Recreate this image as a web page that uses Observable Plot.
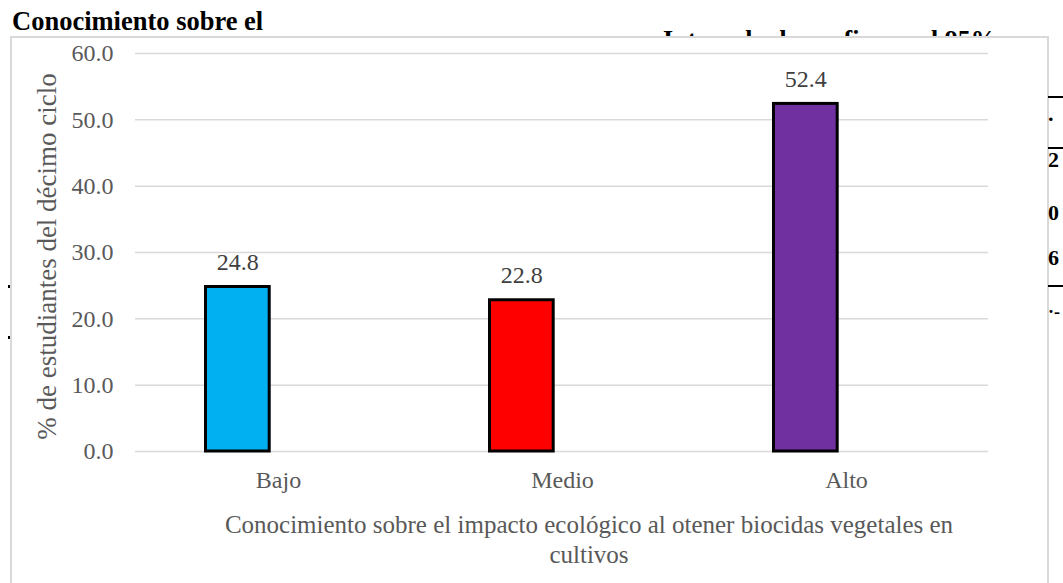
<!DOCTYPE html>
<html>
<head>
<meta charset="utf-8">
<script src="https://cdn.jsdelivr.net/npm/d3@7"></script>
<script src="https://cdn.jsdelivr.net/npm/@observablehq/plot@0.6"></script>
<style>
  html, body { margin: 0; padding: 0; background: #ffffff; }
  body { position: relative; width: 1063px; height: 583px; overflow: hidden; font-family: "Liberation Serif", "Times New Roman", serif; }
  .abs { position: absolute; line-height: 1; white-space: nowrap; }
  .bold { font-weight: bold; color: #000000; }
  #frame { position: absolute; left: 10px; top: 36px; width: 1035px; height: 600px; border: 2px solid #d9d9d9; background: #ffffff; }
  #chart { position: absolute; left: 0; top: 0; }
  .hline { position: absolute; left: 1048px; width: 15px; height: 2px; background: #000000; }
  .dot { position: absolute; left: 8px; width: 2px; height: 3px; background: #000000; }
</style>
</head>
<body>
<div class="abs bold" style="left:12px; top:8px; font-size:26.5px;">Conocimiento sobre el</div>
<div class="abs bold" style="left:663px; top:27px; font-size:26px;">Intervalo de confianza al 95%</div>
<div id="frame"></div>
<div id="chart"></div>
<!-- neighbouring table edge -->
<div class="hline" style="top:96px;"></div>
<div class="hline" style="top:147px;"></div>
<div class="hline" style="top:285px;"></div>
<div class="abs bold" style="left:1048px; top:103px; font-size:22px;">.</div>
<div class="abs bold" style="left:1048px; top:149px; font-size:22px;">2</div>
<div class="abs bold" style="left:1048px; top:202px; font-size:22px;">0</div>
<div class="abs bold" style="left:1048px; top:247px; font-size:22px;">6</div>
<div class="abs bold" style="left:1048px; top:303px; font-size:18px;">·-</div>
<div class="dot" style="top:285px;"></div>
<div class="dot" style="top:336px;"></div>
<script>
// Knowledge level categories and share of tenth-cycle students (%)
const categories = ["Bajo", "Medio", "Alto"];
const percents = [24.8, 22.8, 52.4];
const barColors = ["#00B0F0", "#FF0000", "#7030A0"];
const yTicks = [0, 10, 20, 30, 40, 50, 60];
const yTitle = "% de estudiantes del décimo ciclo";
const xTitle = "Conocimiento sobre el impacto ecológico al otener biocidas vegetales en\ncultivos";

const data = categories.map((nivel, i) => ({nivel, pct: percents[i], color: barColors[i]}));

const chart = Plot.plot({
  width: 1063,
  height: 583,
  marginLeft: 135,
  marginRight: 75,
  marginTop: 53,
  marginBottom: 132,
  style: {fontFamily: "'Liberation Serif', 'Times New Roman', serif", fontSize: "24px", background: "transparent", color: "#595959"},
  x: {domain: categories, padding: 0, axis: null},
  y: {domain: [0, 60], axis: null},
  color: {type: "identity"},
  marks: [
    Plot.ruleY(yTicks, {stroke: "#d9d9d9", strokeWidth: 1.5}),
    Plot.barY(data, {
      x: "nivel", y: "pct", fill: "color",
      stroke: "#000000", strokeWidth: 3,
      insetLeft: 69.5, insetRight: 150.8
    }),
    Plot.axisY(yTicks, {
      tickSize: 0, tickPadding: 22, tickFormat: d => d.toFixed(1),
      fontSize: 24, fill: "#595959", label: null
    }),
    Plot.axisX({tickSize: 0, tickPadding: 19, fontSize: 24, fill: "#595959", label: null}),
    Plot.text(data, {
      x: "nivel", y: "pct", text: d => d.pct.toFixed(1),
      dx: -40.7, dy: -25, lineAnchor: "middle",
      fontSize: 24, fill: "#404040"
    }),
    Plot.text([yTitle], {
      text: d => d, frameAnchor: "left", rotate: -90, textAnchor: "middle",
      dx: -88, dy: 4, lineAnchor: "middle", fontSize: 27, fill: "#595959"
    }),
    Plot.text([xTitle], {
      text: d => d, frameAnchor: "bottom",
      dx: 27, dy: 61, lineAnchor: "top", lineHeight: 1.18,
      fontSize: 25, fill: "#595959"
    })
  ]
});

document.getElementById("chart").appendChild(chart);
</script>
</body>
</html>
